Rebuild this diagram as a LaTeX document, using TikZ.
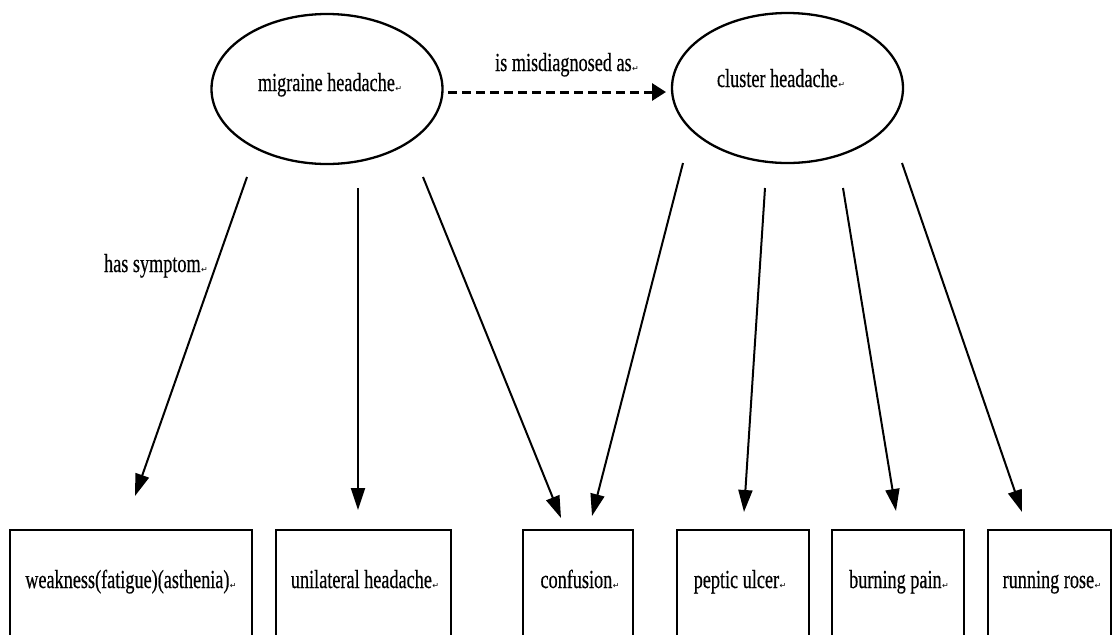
\documentclass[tikz,border=0pt]{standalone}
\usepackage{fontspec}
\setmainfont[FakeStretch=0.70,FakeBold=0.4]{Liberation Serif}
\newfontfamily\markfont{DejaVu Sans}
\usetikzlibrary{arrows.meta,shapes.geometric}
\newcommand{\pmark}{\hspace{0.5pt}{\markfont\fontsize{8}{8}\selectfont ↵}}
\begin{document}
\begin{tikzpicture}[x=1pt,y=-1pt,
  txt/.style={font=\fontsize{26}{28}\selectfont, inner sep=0pt, anchor=base},
  concept/.style={draw, ellipse, line width=2.3pt, minimum width=231pt, minimum height=150pt, inner sep=0pt},
  symbox/.style={draw, line width=2.4pt, anchor=north, minimum height=140pt, inner sep=0pt},
  arr/.style={line width=2pt, -{Triangle[length=22pt,width=14pt]}},
  darr/.style={line width=3pt, dash pattern=on 9pt off 5pt, -{Triangle[length=14pt,width=17pt]}}]
\clip (0,0) rectangle (1112,635);
\fill[white] (0,0) rectangle (1112,635);

% concepts
\node[concept] (mig) at (327,89) {};
\node[txt] (migl) at (330,91) {migraine headache\pmark};
\node[concept] (clu) at (787.5,88) {};
\node[txt] (clul) at (781,87) {cluster headache\pmark};

% symptom boxes
\node[symbox, minimum width=242pt] (b1) at (131,529) {};
\node[symbox, minimum width=175pt] (b2) at (363.5,529) {};
\node[symbox, minimum width=110pt] (b3) at (578,529) {};
\node[symbox, minimum width=132pt] (b4) at (743,529) {};
\node[symbox, minimum width=132pt] (b5) at (898,529) {};
\node[symbox, minimum width=123pt] (b6) at (1049.5,529) {};
\node[txt] (t1) at (131,588) {weakness(fatigue)(asthenia)\pmark};
\node[txt] (t2) at (365,588) {unilateral headache\pmark};
\node[txt] (t3) at (580,588) {confusion\pmark};
\node[txt] (t4) at (740,588) {peptic ulcer\pmark};
\node[txt] (t5) at (899,588) {burning pain\pmark};
\node[txt] (t6) at (1052,588) {running rose\pmark};

% connector ends
\coordinate (s0) at (448,92);  \coordinate (e0) at (666,92);
\coordinate (s1) at (247,177); \coordinate (e1) at (135,496);
\coordinate (s2) at (358,188); \coordinate (e2) at (358,510);
\coordinate (s3) at (423,177); \coordinate (e3) at (561,518);
\coordinate (s4) at (683,163); \coordinate (e4) at (592,516);
\coordinate (s5) at (765,188); \coordinate (e5) at (744,512);
\coordinate (s6) at (843,188); \coordinate (e6) at (896,511);
\coordinate (s7) at (902,163); \coordinate (e7) at (1022,512);

\draw[darr] (s0) -- (e0);
\node[txt] (misl) at (567,71) {is misdiagnosed as\pmark};

\draw[arr] (s1) -- (e1);
\node[txt] (hasl) at (156,272) {has symptom\pmark};
\draw[arr] (s2) -- (e2);
\draw[arr] (s3) -- (e3);
\draw[arr] (s4) -- (e4);
\draw[arr] (s5) -- (e5);
\draw[arr] (s6) -- (e6);
\draw[arr] (s7) -- (e7);
\end{tikzpicture}
\end{document}
